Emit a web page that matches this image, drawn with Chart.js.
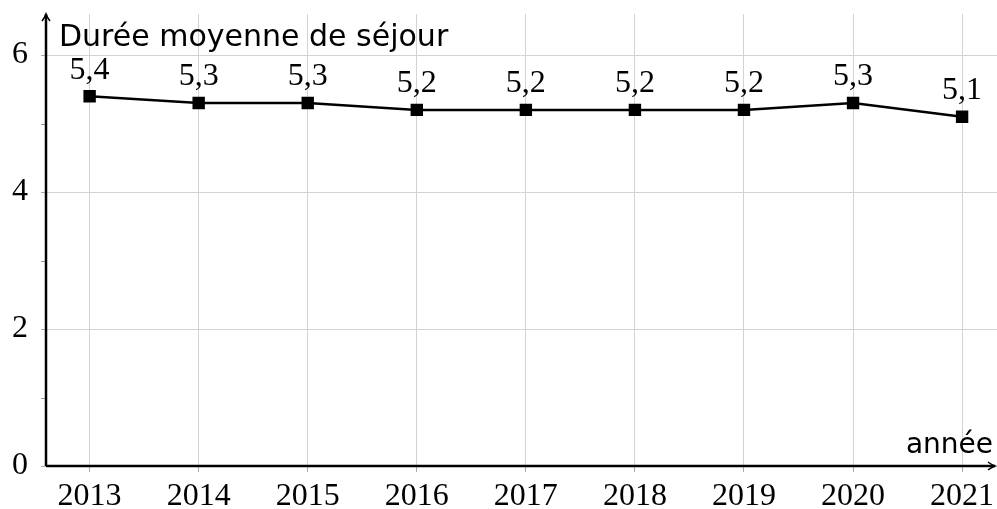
<!DOCTYPE html>
<html>
<head>
<meta charset="utf-8">
<script src="https://cdn.jsdelivr.net/npm/chart.js@4"></script>
<style>
  html, body { margin: 0; padding: 0; background: #fff; overflow: hidden; }
  canvas { display: block; }
</style>
</head>
<body>
<canvas id="c" width="997" height="509"></canvas>
<script>
const years = [2013, 2014, 2015, 2016, 2017, 2018, 2019, 2020, 2021];
const durees = [5.4, 5.3, 5.3, 5.2, 5.2, 5.2, 5.2, 5.3, 5.1];
const durLabels = ['5,4', '5,3', '5,3', '5,2', '5,2', '5,2', '5,2', '5,3', '5,1'];
const yTicks = [0, 2, 4, 6];
const yMinor = [1, 3, 5];

const serif = '"Liberation Serif", "DejaVu Serif", serif';
const sans = '"DejaVu Sans", sans-serif';

const decor = {
  id: 'decor',
  afterDraw(chart) {
    const { ctx, chartArea: a, scales: { x, y } } = chart;
    ctx.save();
    // minor ticks
    ctx.strokeStyle = '#999';
    ctx.lineWidth = 1;
    yMinor.forEach(v => {
      const py = Math.round(y.getPixelForValue(v)) + 0.5;
      ctx.beginPath(); ctx.moveTo(a.left - 5, py); ctx.lineTo(a.left, py); ctx.stroke();
    });
    // axes
    ctx.strokeStyle = '#000';
    ctx.lineWidth = 2.5;
    ctx.beginPath();
    ctx.moveTo(a.left, a.bottom); ctx.lineTo(a.left, a.top);
    ctx.moveTo(a.left, a.bottom); ctx.lineTo(a.right - 2, a.bottom);
    ctx.stroke();
    ctx.lineWidth = 1.5;
    ctx.beginPath();
    ctx.moveTo(a.left - 4, a.top + 7); ctx.quadraticCurveTo(a.left - 1, a.top + 3, a.left, a.top);
    ctx.quadraticCurveTo(a.left + 1, a.top + 3, a.left + 4, a.top + 7);
    ctx.moveTo(a.right - 9, a.bottom - 4); ctx.quadraticCurveTo(a.right - 5, a.bottom - 1, a.right - 2, a.bottom);
    ctx.quadraticCurveTo(a.right - 5, a.bottom + 1, a.right - 9, a.bottom + 4);
    ctx.stroke();
    // axis titles
    ctx.fillStyle = '#000';
    ctx.textBaseline = 'middle';
    ctx.textAlign = 'left';
    ctx.font = '30px ' + sans;
    ctx.fillText('Durée moyenne de séjour', a.left + 13, 38);
    ctx.font = '28px ' + sans;
    ctx.textAlign = 'right';
    ctx.fillText('année', a.right - 4, a.bottom - 20);
    // value labels
    ctx.font = '32px ' + serif;
    ctx.textAlign = 'center';
    const meta = chart.getDatasetMeta(0);
    meta.data.forEach((pt, i) => {
      ctx.fillText(durLabels[i], pt.x, pt.y - 26);
    });
    ctx.restore();
  }
};

new Chart(document.getElementById('c'), {
  type: 'line',
  data: {
    datasets: [{
      data: years.map((yr, i) => ({ x: yr, y: durees[i] })),
      borderColor: '#000',
      borderWidth: 2.5,
      backgroundColor: '#000',
      pointStyle: 'rect',
      pointRadius: 7,
      pointHoverRadius: 7,
      tension: 0
    }]
  },
  options: {
    responsive: false,
    animation: false,
    layout: { autoPadding: false, padding: { top: 14, right: 0, left: 0, bottom: 0 } },
    plugins: { legend: { display: false }, tooltip: { enabled: false } },
    scales: {
      x: {
        type: 'linear',
        min: 2012.6,
        max: 2021.32,
        afterBuildTicks: s => { s.ticks = years.map(v => ({ value: v })); },
        afterFit: s => { s.height = 43; s.paddingLeft = 0; s.paddingRight = 0; },
        border: { display: false },
        grid: { color: '#d3d3d3', lineWidth: 1, tickLength: 6, tickColor: '#aaa' },
        ticks: {
          color: '#000',
          padding: 5,
          maxRotation: 0,
          font: { family: serif, size: 32 },
          callback: v => String(v)
        }
      },
      y: {
        min: 0,
        max: 6.6,
        afterBuildTicks: s => { s.ticks = yTicks.map(v => ({ value: v })); },
        afterFit: s => { s.width = 46; s.paddingTop = 0; s.paddingBottom = 0; },
        border: { display: false },
        grid: { color: '#d3d3d3', lineWidth: 1, tickLength: 5, tickColor: '#aaa' },
        ticks: {
          color: '#000',
          padding: 13,
          font: { family: serif, size: 32 },
          callback: v => String(v)
        }
      }
    }
  },
  plugins: [decor]
});
</script>
</body>
</html>
